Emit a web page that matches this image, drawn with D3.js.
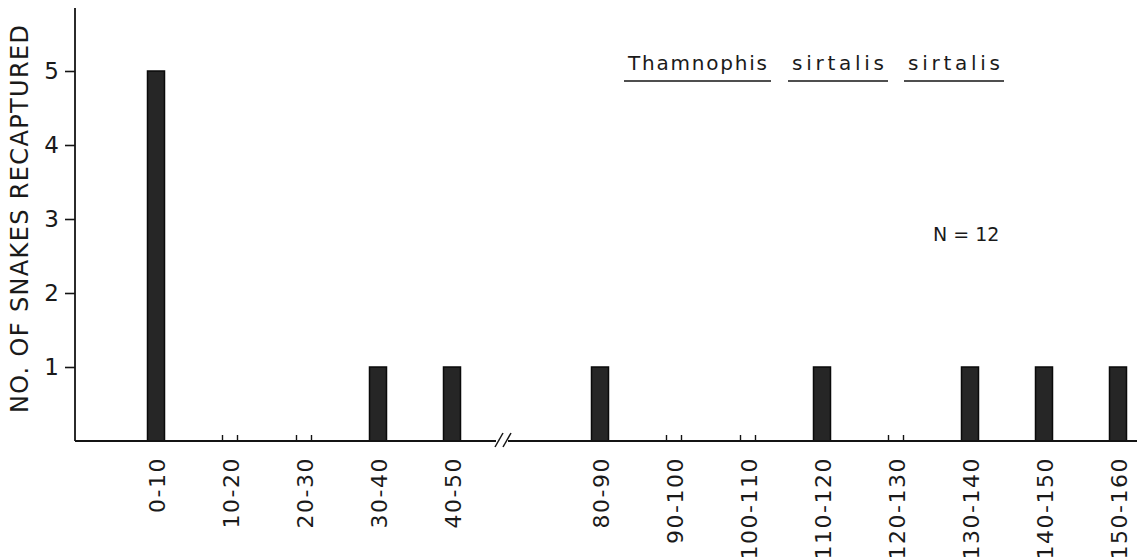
<!DOCTYPE html>
<html>
<head>
<meta charset="utf-8">
<script src="https://cdn.jsdelivr.net/npm/d3@7"></script>
<style>
  html, body { margin: 0; padding: 0; background: #fff; }
  svg { display: block; }
  text { font-family: "DejaVu Sans", sans-serif; fill: #1a1a1a; }
</style>
</head>
<body>
<svg id="chart" width="1137" height="559"></svg>
<script>
// Distance classes (m) before and after the broken stretch of the axis
const classesBefore = ["0-10", "10-20", "20-30", "30-40", "40-50"];
const classesAfter = ["80-90", "90-100", "100-110", "110-120", "120-130", "130-140", "140-150", "150-160"];
// Number of snakes recaptured in each class
const countsBefore = [5, 0, 0, 1, 1];
const countsAfter = [1, 0, 0, 1, 0, 1, 1, 1];
const yTicks = [1, 2, 3, 4, 5];
const titleWords = ["Thamnophis", "sirtalis", "sirtalis"];
const sampleLabel = "N = 12";

const BREAK = "__break__";
const slots = [...classesBefore, BREAK, ...classesAfter];
const data = [
  ...classesBefore.map((c, i) => ({ cls: c, n: countsBefore[i] })),
  ...classesAfter.map((c, i) => ({ cls: c, n: countsAfter[i] }))
];

const svg = d3.select("#chart");
const x0 = 75, xEnd = 1137, yBase = 441;

const x = d3.scalePoint().domain(slots).range([156, 1118]);
const y = d3.scaleLinear().domain([0, 5]).range([yBase, 71]);
const barW = 17;
const ink = "#141414";

// Bars
svg.append("g").selectAll("rect")
  .data(data.filter(d => d.n > 0))
  .join("rect")
  .attr("x", d => x(d.cls) - barW / 2)
  .attr("y", d => y(d.n))
  .attr("width", barW)
  .attr("height", d => y(0) - y(d.n))
  .attr("fill", "#262626")
  .attr("stroke", "#0a0a0a")
  .attr("stroke-width", 1.5);

// Empty classes keep only the stubs of their bar edges
const stubs = svg.append("g").attr("stroke", ink).attr("stroke-width", 1.4);
data.filter(d => d.n === 0).forEach(d => {
  [x(d.cls) - barW / 2 + 1, x(d.cls) + barW / 2 - 1].forEach(px => {
    stubs.append("line")
      .attr("x1", px).attr("x2", px)
      .attr("y1", yBase).attr("y2", yBase - 6);
  });
});

// Y axis
const yAxis = d3.axisLeft(y).tickValues(yTicks).tickSize(10).tickPadding(6).tickFormat(d3.format("d"));
const gy = svg.append("g").attr("transform", `translate(${x0},0)`).call(yAxis);
gy.select(".domain").remove();
gy.selectAll(".tick line").attr("stroke", ink).attr("stroke-width", 1.6);
gy.selectAll(".tick text").attr("font-size", 23).attr("fill", ink)
  .attr("font-family", "DejaVu Sans, sans-serif");
svg.append("line").attr("x1", x0).attr("x2", x0).attr("y1", 8).attr("y2", yBase)
  .attr("stroke", ink).attr("stroke-width", 1.8);

// X axis baseline
svg.append("line").attr("x1", x0).attr("x2", xEnd).attr("y1", yBase).attr("y2", yBase)
  .attr("stroke", ink).attr("stroke-width", 1.8);

// Break marks in the distance axis
const bx = (x(classesBefore[classesBefore.length - 1]) + x(BREAK)) / 2 + 14;
svg.append("rect").attr("x", bx - 7).attr("y", yBase - 3).attr("width", 12).attr("height", 6).attr("fill", "#fff");
[-5, 3].forEach(off => {
  svg.append("line")
    .attr("x1", bx + off - 3).attr("y1", yBase + 6)
    .attr("x2", bx + off + 5).attr("y2", yBase - 8)
    .attr("stroke", ink).attr("stroke-width", 1.5);
});

// X category labels, rotated to read upward
const xAxis = d3.axisBottom(x).tickValues(slots.filter(s => s !== BREAK)).tickSize(0).tickPadding(0);
const gx = svg.append("g").attr("transform", `translate(0,${yBase})`).call(xAxis);
gx.select(".domain").remove();
gx.selectAll(".tick text")
  .attr("font-size", 22)
  .attr("letter-spacing", 1.5)
  .attr("fill", ink)
  .attr("font-family", "DejaVu Sans, sans-serif")
  .attr("text-anchor", "end")
  .attr("dy", null)
  .attr("transform", "translate(8,16) rotate(-90)");

// Y axis title
svg.append("text")
  .attr("transform", `translate(28,${(25 + 413) / 2}) rotate(-90)`)
  .attr("text-anchor", "middle")
  .attr("font-size", 24)
  .attr("textLength", 388)
  .attr("fill", ink)
  .text("NO. OF SNAKES RECAPTURED");

// Species name, each word underlined
const wordStarts = [628, 792, 908];
const wordEnds = [767, 884, 1000];
titleWords.forEach((w, i) => {
  svg.append("text")
    .attr("x", wordStarts[i]).attr("y", 70)
    .attr("font-size", 20)
    .attr("textLength", wordEnds[i] - wordStarts[i])
    .attr("fill", ink)
    .text(w);
  svg.append("line")
    .attr("x1", wordStarts[i] - 4).attr("x2", wordEnds[i] + 4)
    .attr("y1", 81).attr("y2", 81)
    .attr("stroke", ink).attr("stroke-width", 1.6);
});

// Sample size
svg.append("text")
  .attr("x", 933).attr("y", 241)
  .attr("font-size", 19)
  .attr("fill", ink)
  .text(sampleLabel);
</script>
</body>
</html>
